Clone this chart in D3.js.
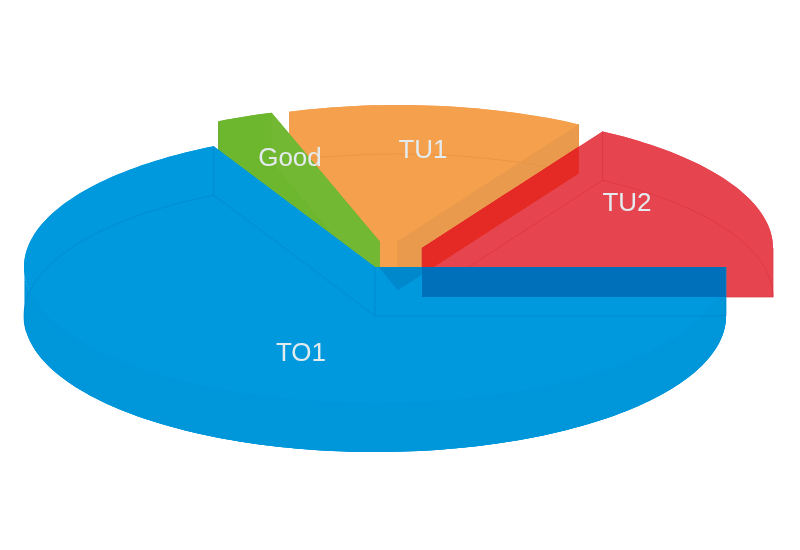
<!DOCTYPE html>
<html><head><meta charset="utf-8">
<script src="https://cdn.jsdelivr.net/npm/d3@7"></script>
<style>html,body{margin:0;padding:0;background:#fff}svg{display:block}text{font-family:"Liberation Sans",Arial,sans-serif}</style>
</head><body><svg id="c" width="800" height="550"></svg>
<script>
const categories = ["TO1", "Good", "TU1", "TU2"];
const values = [67.4, 2.6, 13.6, 16.4];

const fills = {TO1:"#0099dd", Good:"#6db72f", TU1:"#f4a04e", TU2:"#e6454f"};
const lines = {TO1:"#0086cb", Good:"#5fa828", TU1:"#e8923f", TU2:"#d93445"};
const walls = {TU1:"#ea9a4d"};
const centers = {TO1:[375,267], Good:[380,242], TU1:[398,241], TU2:[422,248]};
const labelPos = {TO1:[301,352], Good:[290,157], TU1:[423,149], TU2:[627,202]};
const RX = 351, RY = 136, DEPTH = 49;

const svg = d3.select("#c");
const defs = svg.append("defs");
defs.append("filter").attr("id","soft").append("feGaussianBlur").attr("stdDeviation",0.45);
const root = svg.append("g").attr("filter","url(#soft)");

const slices = d3.pie().sort(null).startAngle(Math.PI/2).endAngle(Math.PI/2+2*Math.PI)
  .value((d,i)=>values[i])(categories);
const byName = {}; slices.forEach(s=>byName[s.data]=s);
const line = d3.line();
const project = (c,a,dz=0)=>[c[0]+RX*Math.sin(a), c[1]-RY*Math.cos(a)+dz];
const arcPts = (s,c,dz=0,from=s.startAngle,to=s.endAngle)=>{
  const n = Math.max(2,Math.ceil((to-from)*40));
  return d3.range(n+1).map(i=>project(c,from+(to-from)*i/n,dz));
};
function parts(name){
  const s = byName[name], c = centers[name];
  const top = arcPts(s,c), bot = arcPts(s,c,DEPTH);
  const ct=[c[0],c[1]], cb=[c[0],c[1]+DEPTH];
  return [
    line([ct,...top])+"Z",
    line([cb,...bot])+"Z",
    line([...top,...bot.slice().reverse()])+"Z",
    line([ct,top[0],bot[0],cb])+"Z",
    line([ct,top[top.length-1],bot[bot.length-1],cb])+"Z"
  ];
}
const solid = (g,name,color)=>g.append("g").selectAll("path").data(parts(name)).join("path")
  .attr("d",d=>d).attr("fill",color);
const clip = name=>{
  defs.append("clipPath").attr("id","clip-"+name).selectAll("path").data(parts(name)).join("path").attr("d",d=>d);
  return "url(#clip-"+name+")";
};
const clipTO1 = clip("TO1"), clipTU1 = clip("TU1");

function details(g,name,arcFrom,arcTo){
  const s = byName[name], c = centers[name];
  const bot = arcPts(s,c,DEPTH,arcFrom===undefined?s.startAngle:arcFrom,arcTo===undefined?s.endAngle:arcTo);
  const cb=[c[0],c[1]+DEPTH];
  const st=project(c,s.startAngle,DEPTH), en=project(c,s.endAngle,DEPTH);
  g.append("path").attr("d",line(bot)).attr("fill","none").attr("stroke",lines[name]).attr("opacity",.7);
  g.append("path").attr("d",line([st,cb,en])).attr("fill","none").attr("stroke",lines[name]).attr("opacity",.7);
  [project(c,s.startAngle),project(c,s.endAngle),[c[0],c[1]]].forEach(p=>{
    g.append("path").attr("d",line([p,[p[0],p[1]+DEPTH]])).attr("stroke",lines[name]).attr("opacity",.7);
  });
}

// TU1
solid(root,"TU1",fills.TU1);
{
  const s=byName.TU1,c=centers.TU1;
  const a=project(c,s.endAngle),b=project(c,s.endAngle,DEPTH);
  root.append("path").attr("d",line([[c[0],c[1]],a,b,[c[0],c[1]+DEPTH]])+"Z").attr("fill",walls.TU1);
}
details(root,"TU1");
// Good
solid(root,"Good",fills.Good);
{
  const s=byName.Good,c=centers.Good;
  const a=project(c,s.endAngle),b=project(c,s.startAngle);
  root.append("path").attr("d",line([[c[0],c[1]],a,[a[0],a[1]+DEPTH],[c[0],c[1]+DEPTH]])+"Z").attr("fill","#72b833");
  root.append("path").attr("d",line([b,[b[0],b[1]+DEPTH]])).attr("stroke",lines.Good);
}
// TU2
solid(root,"TU2",fills.TU2);
solid(root.append("g").attr("clip-path",clipTU1),"TU2","#e52b25");
details(root,"TU2");
// TO1
solid(root,"TO1",fills.TO1);
{
  const s=byName.TO1,c=centers.TO1;
  const t=arcPts(s,c,0,Math.PI/2,3*Math.PI/2+0.05), b=arcPts(s,c,DEPTH,Math.PI/2,3*Math.PI/2+0.05);
  root.append("path").attr("d",line([...t,...b.reverse()])+"Z").attr("fill","#0096da");
}
solid(root.append("g").attr("clip-path",clipTO1),"TU1","#0088cc");
solid(root.append("g").attr("clip-path",clipTO1),"TU2","#0070bb");
details(root,"TO1",3*Math.PI/2-0.12,byName.TO1.endAngle);

root.append("g").selectAll("text").data(categories).join("text")
  .attr("x",d=>labelPos[d][0]).attr("y",d=>labelPos[d][1]).attr("dy","0.35em")
  .attr("text-anchor","middle").attr("font-size",26).attr("fill","#e4ebee").text(d=>d);
</script></body></html>
